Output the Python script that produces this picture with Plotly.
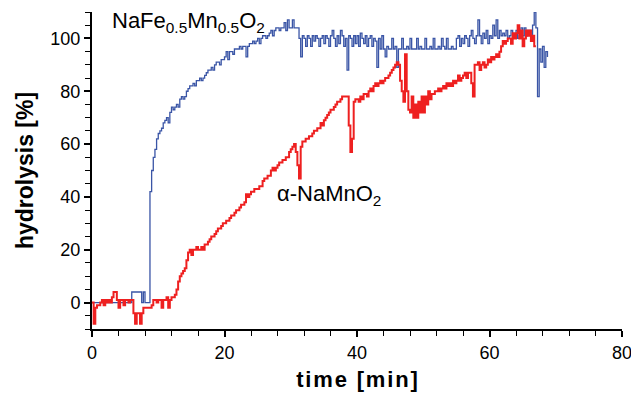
import numpy as np
import plotly.graph_objects as go

# time grid (min), 0.25-min sampling
blue_rows = [
    [0, 0, 0, 0], [0, 0, 0, 0], [0, 0, 0, 0], [0, 0, 0, 0], [0, 0, 0, 0],
    [0, 0, 0, 0], [4, 4, 4, 4], [4, 4, 0, 4], [0, 0, 0, 42], [50, 55, 58, 62],
    [64, 65, 66, 68], [69, 70, 68, 72], [74, 73, 74, 75], [74, 77, 78, 77], [78, 80, 81, 82],
    [82, 83, 82, 84], [84, 85, 84, 85], [86, 87, 88, 88], [89, 88, 90, 91], [91, 90, 92, 92],
    [93, 95, 92, 95], [95, 94, 96, 96], [96, 97, 96, 97], [97, 93, 97, 98], [98, 99, 98, 99],
    [100, 98, 100, 101], [101, 100, 101, 102], [103, 101, 103, 104], [104, 103, 104, 104], [106, 103, 107, 104],
    [104, 107, 104, 104], [104, 100, 93, 101], [100, 97, 101, 100], [97, 101, 99, 101], [100, 97, 100, 101],
    [98, 101, 100, 97], [101, 103, 100, 97], [101, 98, 103, 101], [97, 100, 88, 101], [100, 97, 101, 98],
    [101, 97, 102, 100], [98, 101, 97, 100], [101, 97, 100, 99], [89, 100, 96, 101], [96, 93, 97, 96],
    [96, 100, 96, 97], [89, 96, 96, 100], [96, 96, 97, 96], [100, 96, 96, 96], [100, 96, 97, 96],
    [96, 100, 96, 96], [97, 96, 100, 96], [96, 97, 96, 100], [97, 96, 100, 96], [96, 97, 96, 96],
    [100, 101, 97, 100], [98, 101, 100, 97], [101, 103, 100, 98], [101, 107, 101, 98], [102, 100, 103, 98],
    [101, 100, 105, 101], [107, 100, 103, 101], [102, 101, 103, 100], [101, 103, 100, 101], [103, 100, 101, 104],
    [101, 104, 101, 103], [103, 101, 105, 110], [104, 78, 96, 91], [97, 89, 95, 93],
]

red_rows = [
    [0, -8, -2, -1], [-1, 0, 1, -1], [1, 0, 1, 0], [2, 4, 4, 1], [-2, 1, 1, -1],
    [1, 1, 0, 1], [1, -4, -8, -4], [-4, -8, -4, -2], [-2, -2, -2, -2], [-1, 1, 1, 0],
    [1, 1, -2, 1], [1, 2, -2, 1], [2, 2, 3, 5], [8, 10, 11, 12], [13, 16, 19, 20],
    [18, 20, 20, 21], [20, 20, 21, 20], [22, 22, 23, 24], [25, 25, 26, 27], [28, 28, 29, 30],
    [30, 31, 31, 32], [33, 33, 34, 35], [35, 36, 37, 37], [38, 41, 40, 41], [42, 42, 43, 43],
    [43, 44, 44, 46], [47, 47, 48, 48], [50, 51, 50, 51], [52, 53, 53, 54], [54, 55, 55, 57],
    [58, 59, 60, 57], [52, 47, 59, 61], [61, 62, 62, 63], [63, 64, 65, 65], [66, 66, 68, 67],
    [69, 70, 71, 72], [73, 73, 74, 75], [76, 76, 77, 78], [78, 78, 78, 67], [57, 62, 76, 77],
    [77, 76, 78, 77], [79, 79, 78, 80], [81, 80, 82, 83], [82, 83, 84, 83], [84, 85, 85, 86],
    [87, 88, 89, 90], [91, 90, 84, 80], [76, 94, 80, 73], [72, 78, 70, 75], [70, 76, 72, 78],
    [72, 78, 75, 80], [77, 79, 79, 80], [80, 81, 80, 81], [82, 81, 83, 82], [83, 82, 84, 83],
    [84, 86, 84, 85], [86, 87, 85, 87], [87, 83, 78, 90], [90, 91, 88, 90], [91, 89, 90, 92],
    [91, 93, 92, 93], [94, 93, 95, 97], [99, 98, 99, 100], [100, 98, 102, 100], [102, 105, 100, 103],
    [97, 100, 103, 101], [103, 99, 101, 97], [97],
]

blue_vals = [v for row in blue_rows for v in row]
red_vals = [v for row in red_rows for v in row]
blue_t = [i * 0.25 for i in range(len(blue_vals))]
red_t = [i * 0.25 for i in range(len(red_vals))]

x_ticks = [0, 20, 40, 60, 80]
y_ticks = [0, 20, 40, 60, 80, 100]

FONT = "Liberation Sans, Arial, sans-serif"
HS = "\u200a"  # hair space, mimics the letter spacing of the x title

fig = go.Figure()
fig.add_trace(go.Scatter(x=blue_t, y=blue_vals, mode="lines", line_shape="hv",
                         line=dict(color="#3a55a6", width=1.3), showlegend=False))
fig.add_trace(go.Scatter(x=red_t, y=red_vals, mode="lines", line_shape="hv",
                         line=dict(color="#ee2020", width=2), showlegend=False))

axis_common = dict(showline=True, linecolor="black", linewidth=2, showgrid=False,
                   zeroline=False, ticks="outside", ticklen=6, tickwidth=1.5, tickcolor="black",
                   automargin=False,
                   tickfont=dict(family=FONT, size=18, color="black"))

fig.update_xaxes(range=[0, 80], tickvals=x_ticks, **axis_common,
                 minor=dict(dtick=4, ticks="outside", ticklen=5, tickwidth=1, tickcolor="black"),
                 title=dict(text="<b>" + HS.join("time [min]") + "</b>",
                            font=dict(family=FONT, size=22, color="black"),
                            standoff=10))
fig.update_yaxes(range=[-10, 110], tickvals=y_ticks, **axis_common,
                 minor=dict(dtick=5, ticks="outside", ticklen=5, tickwidth=1, tickcolor="black"),
                 title=dict(text="<b>hydrolysis [%]</b>", font=dict(family=FONT, size=23, color="black"),
                            standoff=10))

fig.add_annotation(x=2.7, y=106.2, xanchor="left", yanchor="middle", showarrow=False,
                   text="NaFe<sub>0.5</sub>Mn<sub>0.5</sub>O<sub>2</sub>",
                   font=dict(family=FONT, size=22, color="black"))
fig.add_annotation(x=27.6, y=40.7, xanchor="left", yanchor="middle", showarrow=False,
                   text="α-NaMnO<sub>2</sub>",
                   font=dict(family=FONT, size=22, color="black"))

# page body has an 8px margin, so the figure is 8px smaller and margins shifted
fig.update_layout(width=631, height=392, margin=dict(l=84, r=17, t=4, b=71),
                  plot_bgcolor="white", paper_bgcolor="white")

fig.write_html("out.html")
